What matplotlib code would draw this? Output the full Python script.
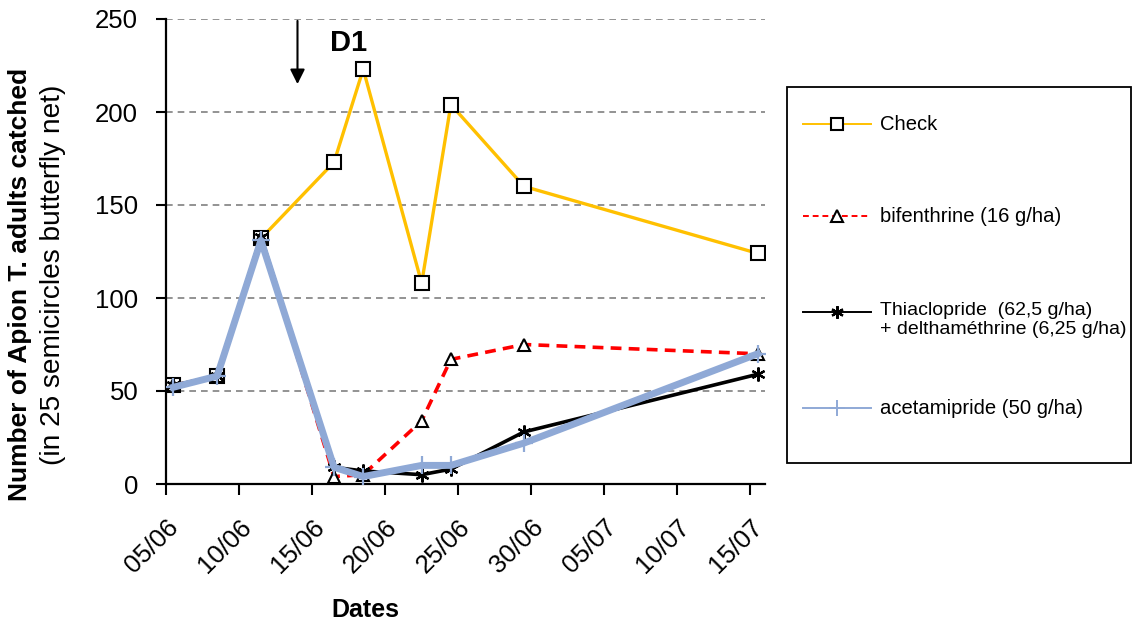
import matplotlib
matplotlib.use("Agg")
import matplotlib.pyplot as plt
from matplotlib.lines import Line2D
from matplotlib.patches import Rectangle
from datetime import date

plt.rcParams['font.family'] = ['Liberation Sans', 'DejaVu Sans']

# ---- data ----
dates = ["05/06", "08/06", "11/06", "16/06", "18/06", "22/06", "24/06", "29/06", "15/07"]
check = [53, 58, 132, 173, 223, 108, 204, 160, 124]
bifenthrine = [53, 58, 132, 4, 5, 34, 67, 75, 70]
thiaclopride = [53, 58, 133, 9, 7, 5, 8, 28, 59]
acetamipride = [52, 58, 131, 9, 4, 10, 10, 22, 70]
tick_labels = ["05/06", "10/06", "15/06", "20/06", "25/06", "30/06", "05/07", "10/07", "15/07"]
labels = ["Check", "bifenthrine (16 g/ha)",
          "Thiaclopride  (62,5 g/ha)\n+ delthaméthrine (6,25 g/ha)",
          "acetamipride (50 g/ha)"]

YEAR = 2009
def to_day(s):
    d, m = map(int, s.split("/"))
    return (date(YEAR, m, d) - date(YEAR, 6, 5)).days

x = [to_day(s) + 0.5 for s in dates]          # points centred on their day
ticks = [to_day(s) for s in tick_labels]

W, H = 1134, 624
fig = plt.figure(figsize=(W / 100, H / 100), dpi=100)
ax = fig.add_axes([166 / W, 1 - 484 / H, (765 - 166) / W, (484 - 19) / H])

c_check = "#FFC000"
c_bif = "#FF0000"
c_thia = "#000000"
c_acet = "#8FA9D6"
star = (6, 2, 0)

ax.plot(x, check, color=c_check, lw=2.4, marker="s", ms=9.5, mfc="white",
        mec="black", mew=1.5, zorder=3)
ax.plot(x, bifenthrine, color=c_bif, lw=2.6, ls=(0, (3, 2)), marker="^", ms=9,
        mfc="white", mec="black", mew=1.5, zorder=4)
ax.plot(x, thiaclopride, color=c_thia, lw=2.6, marker=star, ms=10, mec="black",
        mew=1.6, zorder=5)
ax.plot(x, acetamipride, color=c_acet, lw=5.0, marker="+", ms=13, mec=c_acet,
        mew=1.6, zorder=6)

ax.set_xlim(0, 41)
ax.set_ylim(0, 250)
ax.set_yticks(range(0, 251, 50))
ax.set_xticks(ticks)
ax.set_xticklabels(tick_labels, rotation=45, ha="right", rotation_mode="anchor")
ax.tick_params(axis="both", labelsize=18.5, direction="out", width=1.5, color="black")
ax.tick_params(axis="y", length=7, pad=13)
ax.tick_params(axis="x", length=8, pad=14)
for side in ["top", "right"]:
    ax.spines[side].set_visible(False)
for side in ["left", "bottom"]:
    ax.spines[side].set_linewidth(1.6)
ax.grid(axis="y", color="#808080", ls=(0, (4, 3)), lw=1.2)
ax.set_axisbelow(True)

fig.text(365 / W, 1 - 610 / H, "Dates", fontsize=18,
         fontweight="bold", ha="center", va="center")

# y labels (two lines)
fig.text(20 / W, 1 - 284 / H, "Number of Apion T. adults catched", rotation=90,
         fontsize=19, fontweight="bold", ha="center", va="center")
fig.text(53 / W, 1 - 275 / H, "(in 25 semicircles butterfly net)", rotation=90,
         fontsize=20.2, ha="center", va="center")

# D1 treatment marker
ax.annotate("", xy=(9.0, 215), xytext=(9.0, 249),
            arrowprops=dict(arrowstyle="-|>", color="black", lw=1.5,
                            mutation_scale=22, shrinkA=0, shrinkB=0))
ax.text(12.5, 237, "D1", fontsize=21, fontweight="bold", ha="center", va="center")

# ---- legend (manual box) ----
def fx(px):
    return px / W
def fy(py):
    return 1 - py / H

fig.patches.append(Rectangle((fx(787), fy(463)), fx(1131) - fx(787), fy(87) - fy(463),
                             transform=fig.transFigure, fill=False, ec="black", lw=1.3))
styles = [
    dict(color=c_check, lw=1.4, marker="s", ms=8, mfc="white", mec="black", mew=1.5),
    dict(color=c_bif, lw=1.4, ls=(0, (3, 2)), marker="^", ms=8, mfc="white", mec="black", mew=1.5),
    dict(color=c_thia, lw=1.4, marker=star, ms=9, mec="black", mew=1.6),
    dict(color=c_acet, lw=1.4, marker="+", ms=11, mec=c_acet, mew=1.4),
]
ys = [124, 216, 312, 408]
mkeys = ("marker", "ms", "mfc", "mec", "mew")
for st, yy, lab in zip(styles, ys, labels):
    fig.add_artist(Line2D([fx(803), fx(871)], [fy(yy), fy(yy)], transform=fig.transFigure,
                          **{k: v for k, v in st.items() if k not in mkeys}))
    fig.add_artist(Line2D([fx(837)], [fy(yy)], transform=fig.transFigure, ls="none",
                          **{k: v for k, v in st.items() if k in mkeys}))
    if "\n" in lab:
        fig.text(fx(880), fy(yy - 10), lab, fontsize=14.0, ha="left", va="top",
                 linespacing=1.12)
    else:
        fig.text(fx(880), fy(yy), lab, fontsize=14.6, ha="left", va="center")

fig.savefig("out.png", dpi=100)
